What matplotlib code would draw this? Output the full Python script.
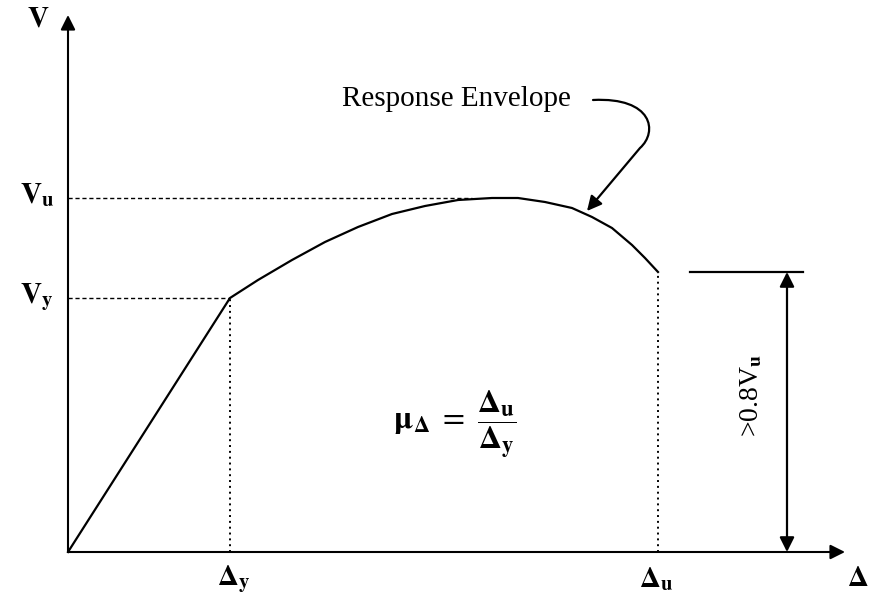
import numpy as np
import matplotlib.pyplot as plt
from matplotlib.patches import FancyArrowPatch
from matplotlib.path import Path

plt.rcParams['mathtext.fontset'] = 'stix'
plt.rcParams['font.family'] = ['Liberation Serif', 'DejaVu Serif']

# key levels of the idealised envelope (drawing units)
d_y, d_u = 162, 590
v_y, v_u = 254, 354
v_limit = 280

# response envelope
delta = np.array([0, 162, 190, 224, 257, 290, 324, 357, 390, 424, 450,
                  477, 504, 524, 544, 564, 577, 590])
shear = np.array([0, 254, 272, 292, 310, 325, 338, 346, 352, 354, 354,
                  350, 344, 335, 324, 307, 294, 280])

fig = plt.figure(figsize=(8.69, 5.96), dpi=100)
ax = fig.add_axes([0, 0, 1, 1])
ax.set_xlim(-68, 801)
ax.set_ylim(-44, 552)
ax.axis('off')

# axes with arrow heads
arw = dict(arrowstyle='-|>', lw=1.5, color='black', mutation_scale=22,
           shrinkA=0, shrinkB=0)
ax.annotate('', xy=(0, 537), xytext=(0, 0), arrowprops=arw)
ax.annotate('', xy=(777, 0), xytext=(0, 0), arrowprops=arw)

# envelope
ax.plot(delta, shear, color='black', lw=1.6, solid_joinstyle='round')

# reference lines
ax.plot([0, 404], [v_u, v_u], color='black', lw=1, ls=(0, (3, 2)))
ax.plot([0, d_y], [v_y, v_y], color='black', lw=1, ls=(0, (3, 2)))
ax.plot([d_y, d_y], [0, v_y], color='black', lw=1.4, ls=(0, (1, 2)))
ax.plot([d_u, d_u], [0, shear[-1]], color='black', lw=1.4, ls=(0, (1, 2)))

# 0.8 Vu limit
ax.plot([622, 735], [v_limit, v_limit], color='black', lw=1.6)
ax.annotate('', xy=(719, v_limit), xytext=(719, 0),
            arrowprops=dict(arrowstyle='<|-|>', lw=1.6, color='black',
                            mutation_scale=22, shrinkA=0, shrinkB=0))
ax.text(684, 157, r'>0.8V$_\mathbf{u}$', rotation=90, fontsize=20,
        ha='center', va='center')

# labels
lab = dict(fontsize=21, ha='center', va='center')
ax.text(-30, 532, r'$\mathbf{V}$', **lab)
ax.text(-31, 357, r'$\mathbf{V}_\mathbf{u}$', **lab)
ax.text(-31, 255, r'$\mathbf{V}_\mathbf{y}$', **lab)
ax.text(d_y + 4, -27, r'$\mathbf{\Delta}_\mathbf{y}$', **lab)
ax.text(d_u - 2, -27, r'$\mathbf{\Delta}_\mathbf{u}$', **lab)
ax.text(790, -27, r'$\mathbf{\Delta}$', **lab)

ax.text(387, 127, r'$\mathbf{\mu}_\mathbf{\Delta}\ =\ \dfrac{\mathbf{\Delta}_\mathbf{u}}{\mathbf{\Delta}_\mathbf{y}}$',
        fontsize=23, ha='center', va='center')

ax.text(388, 453, 'Response Envelope', fontsize=21, ha='center', va='center')

# curved pointer to the envelope
verts = [(525, 452), (585, 455), (590, 420), (572, 404), (519, 341)]
codes = [Path.MOVETO, Path.CURVE4, Path.CURVE4, Path.CURVE4, Path.LINETO]
ax.add_patch(FancyArrowPatch(path=Path(verts, codes), arrowstyle='-|>',
                             mutation_scale=22, lw=1.6, color='black'))

fig.savefig('out.png', dpi=100)
